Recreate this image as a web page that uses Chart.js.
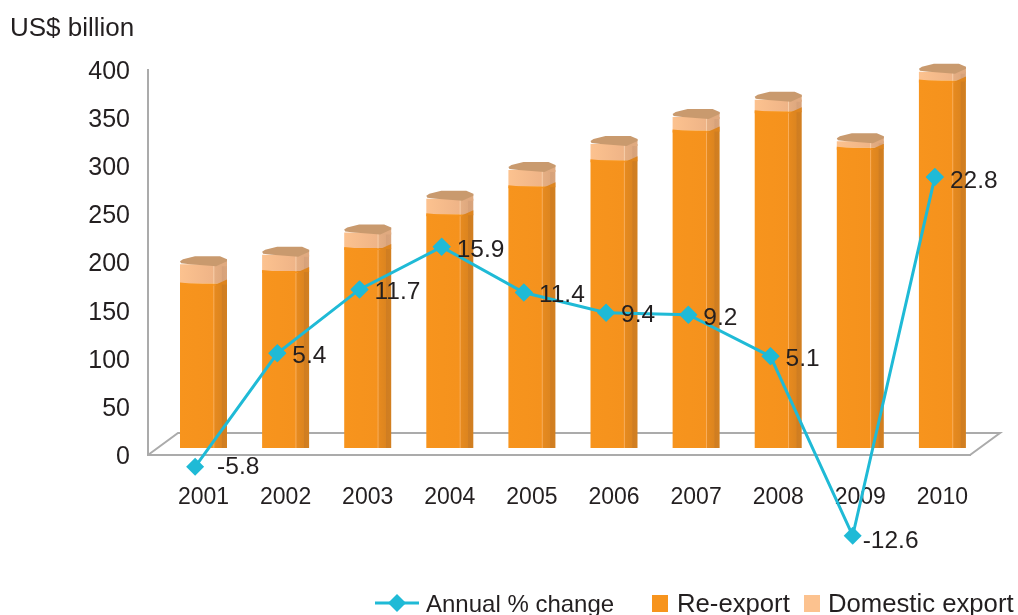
<!DOCTYPE html>
<html>
<head>
<meta charset="utf-8">
<style>
    html, body { margin: 0; padding: 0; background: #fff; }
    #wrap { width: 1018px; height: 615px; }
</style>
<script src="https://cdn.jsdelivr.net/npm/chart.js@4"></script>
</head>
<body>
<div id="wrap"><canvas id="exportChart" width="1018" height="615"></canvas></div>
<script>
const years = [2001, 2002, 2003, 2004, 2005, 2006, 2007, 2008, 2009, 2010];
const reExport = [171, 184, 208, 243, 272, 299, 330, 350, 312, 382];
const domesticExport = [20, 17, 16, 16, 17, 17, 14, 12, 7, 9];
const annualChange = [-5.8, 5.4, 11.7, 15.9, 11.4, 9.4, 9.2, 5.1, -12.6, 22.8];
const yTicks = [0, 50, 100, 150, 200, 250, 300, 350, 400];

const textColor = '#231F20';
const axisColor = '#ABABAB';
const lineColor = '#1FBAD6';
const fontFamily = '"Liberation Sans", Arial, sans-serif';
const barWidth = 47;

// label offsets from the diamond, most sit right of it
const labelOffset = { 0: [22, 0], 8: [10, 6], 9: [15, 4] };

function facetGradient(ctx, left, stops) {
    const g = ctx.createLinearGradient(left, 0, left + barWidth, 0);
    stops.forEach(s => g.addColorStop(s[0], s[1]));
    return g;
}

const reStops = [
    [0, '#F7941D'], [0.7, '#F5921D'], [0.72, '#F9AF5E'], [0.74, '#E68A1F'],
    [0.88, '#DD851F'], [0.9, '#CF7D22'], [1, '#D38020']
];
const domStops = [
    [0, '#FCC28F'], [0.7, '#EFB487'], [0.72, '#F8D0AC'], [0.74, '#E5AE83'],
    [0.88, '#DFA97F'], [0.9, '#D6A17A'], [1, '#DAA57C']
];

function barFill(stops, flat) {
    return function(context) {
        if (context.dataIndex === undefined) return flat;
        const x = context.chart.scales.x.getPixelForValue(years[context.dataIndex]);
        // scales have no size yet on the first reset pass
        if (!Number.isFinite(x)) return flat;
        return facetGradient(context.chart.ctx, x - barWidth / 2, stops);
    };
}

function poly(ctx, left, top, pts, fill) {
    ctx.beginPath();
    pts.forEach((p, i) => {
        if (i === 0) ctx.moveTo(left + p[0], top + p[1]);
        else ctx.lineTo(left + p[0], top + p[1]);
    });
    ctx.closePath();
    ctx.fillStyle = fill;
    ctx.fill();
}

// floor of the 3D box, behind the bars
const floorPlugin = {
    id: 'floor',
    beforeDatasetsDraw(chart) {
        const { ctx, chartArea: a } = chart;
        ctx.save();
        ctx.strokeStyle = axisColor;
        ctx.lineWidth = 2;
        ctx.beginPath();
        ctx.moveTo(a.left, a.bottom);
        ctx.lineTo(a.left + 30, a.bottom - 22);
        ctx.lineTo(a.right + 30, a.bottom - 22);
        ctx.lineTo(a.right, a.bottom);
        ctx.stroke();
        ctx.restore();
    }
};

// prism tops and side slopes, drawn before the line goes on top
const capPlugin = {
    id: 'caps',
    afterDatasetDraw(chart, args) {
        if (args.index !== 1) return;
        const ctx = chart.ctx;
        const reBars = chart.getDatasetMeta(1).data;
        const domBars = chart.getDatasetMeta(2).data;
        ctx.save();
        domBars.forEach((bar, i) => {
            const left = bar.x - barWidth / 2;
            // re-export slope into the domestic block
            poly(ctx, left, reBars[i].y, [[36, 1], [47, -4], [47, 1]], '#DD851F');
            poly(ctx, left, reBars[i].y, [[0, -1], [10, 0], [36, 1], [36, 2], [0, 2]], '#F7941D');
            // domestic side slope
            poly(ctx, left, bar.y, [[36, 2], [47, -5], [47, 2]], '#E0AA80');
            // top
            poly(ctx, left, bar.y, [
                [0, -3], [3, -5], [15, -8], [40, -8], [47, -5],
                [47, -3], [36, 2], [10, 0], [1, -1]
            ], '#C99A6E');
        });
        ctx.restore();
    }
};

const labelPlugin = {
    id: 'pointLabels',
    afterDatasetsDraw(chart) {
        const ctx = chart.ctx;
        const points = chart.getDatasetMeta(0).data;
        // points past the chart area are skipped by the library, so redraw with the whole canvas as area
        const wholeCanvas = { left: 0, top: 0, right: chart.width, bottom: chart.height };
        points.forEach(pt => pt.draw(ctx, wholeCanvas));
        ctx.save();
        ctx.font = '24.5px ' + fontFamily;
        ctx.fillStyle = textColor;
        ctx.textAlign = 'left';
        ctx.textBaseline = 'middle';
        points.forEach((pt, i) => {
            const off = labelOffset[i] || [15, 3];
            ctx.fillText(String(annualChange[i]), pt.x + off[0], pt.y + off[1]);
        });
        ctx.restore();
    }
};

const legendPlugin = {
    id: 'bottomLegend',
    afterDraw(chart) {
        const ctx = chart.ctx;
        const sets = chart.data.datasets;
        const y = 603;
        ctx.save();
        ctx.fillStyle = textColor;
        ctx.textAlign = 'left';
        ctx.textBaseline = 'middle';
        ctx.font = '24px ' + fontFamily;
        ctx.fillText(sets[0].label, 426, y + 2);
        ctx.font = '25.7px ' + fontFamily;
        ctx.fillText(sets[1].label, 677, y + 2);
        ctx.fillText(sets[2].label, 828, y + 2);

        ctx.strokeStyle = lineColor;
        ctx.lineWidth = 3;
        ctx.beginPath();
        ctx.moveTo(375, y);
        ctx.lineTo(419, y);
        ctx.stroke();
        ctx.fillStyle = lineColor;
        ctx.beginPath();
        ctx.moveTo(397, y - 9);
        ctx.lineTo(406, y);
        ctx.lineTo(397, y + 9);
        ctx.lineTo(388, y);
        ctx.closePath();
        ctx.fill();

        ctx.fillStyle = '#F7941D';
        ctx.fillRect(652, y - 8, 16, 17);
        ctx.fillStyle = '#FCC28F';
        ctx.fillRect(804, y - 8, 16, 17);
        ctx.restore();
    }
};

new Chart(document.getElementById('exportChart').getContext('2d'), {
    type: 'bar',
    data: {
        datasets: [
            {
                type: 'line',
                label: 'Annual % change',
                data: years.map((yr, i) => ({ x: yr, y: annualChange[i] })),
                xAxisID: 'xLine',
                yAxisID: 'yLine',
                borderColor: lineColor,
                backgroundColor: lineColor,
                borderWidth: 3,
                tension: 0,
                pointStyle: 'rectRot',
                pointRadius: 9,
                pointBorderWidth: 0,
                clip: false,
                order: 0
            },
            {
                label: 'Re-export',
                data: years.map((yr, i) => ({ x: yr, y: reExport[i] })),
                xAxisID: 'x',
                yAxisID: 'yBar',
                backgroundColor: barFill(reStops, '#F7941D'),
                borderWidth: 0,
                grouped: false,
                maxBarThickness: barWidth,
                clip: false,
                order: 1
            },
            {
                label: 'Domestic export',
                data: years.map((yr, i) => ({ x: yr, y: domesticExport[i] })),
                xAxisID: 'x',
                yAxisID: 'yBar',
                backgroundColor: barFill(domStops, '#FCC28F'),
                borderWidth: 0,
                grouped: false,
                maxBarThickness: barWidth,
                clip: false,
                order: 1
            }
        ]
    },
    plugins: [floorPlugin, capPlugin, labelPlugin, legendPlugin],
    options: {
        responsive: false,
        animation: false,
        layout: { padding: { left: 10, right: 48, top: 0, bottom: 0 } },
        plugins: {
            legend: { display: false },
            tooltip: { enabled: false },
            title: {
                display: true,
                text: 'US$ billion',
                align: 'start',
                color: textColor,
                font: { size: 26, weight: 'normal', family: fontFamily },
                padding: { top: 13, bottom: 26 }
            }
        },
        scales: {
            x: {
                type: 'linear',
                position: 'bottom',
                min: 2000.324,
                max: 2010.336,
                offset: false,
                grid: { display: false, offset: false },
                border: { color: axisColor, width: 2 },
                afterFit(scale) { scale.height = 160; },
                ticks: {
                    stepSize: 1,
                    includeBounds: false,
                    autoSkip: false,
                    maxRotation: 0,
                    padding: 21,
                    color: textColor,
                    font: { size: 23, family: fontFamily },
                    callback: v => (years.includes(v) ? String(v) : '')
                }
            },
            xLine: {
                type: 'linear',
                display: false,
                min: 2000.427,
                max: 2010.427,
                offset: false
            },
            y: {
                position: 'left',
                min: 0,
                max: 400,
                grid: { display: false },
                border: { color: axisColor, width: 2 },
                afterFit(scale) { scale.width = 138; },
                afterBuildTicks(scale) { scale.ticks = yTicks.map(v => ({ value: v })); },
                ticks: {
                    padding: 10,
                    labelOffset: 2,
                    color: textColor,
                    font: { size: 25, family: fontFamily }
                }
            },
            yBar: {
                display: false,
                stacked: true,
                min: -7.27,
                max: 392.73
            },
            yLine: {
                display: false,
                min: -4.635,
                max: 33.33
            }
        }
    }
});
</script>
</body>
</html>
